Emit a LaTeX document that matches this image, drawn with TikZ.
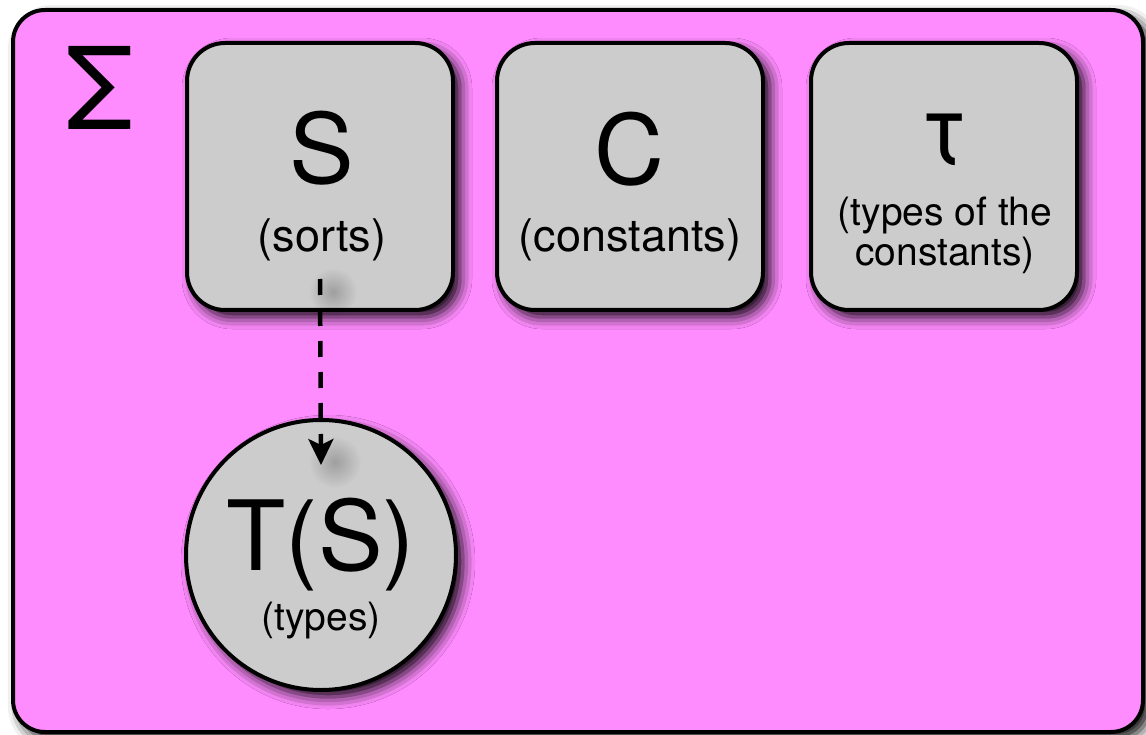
\documentclass[tikz,border=0pt]{standalone}
\usepackage{fontspec}
\setmainfont{TeX Gyre Heros}
\usetikzlibrary{shadows.blur,arrows.meta,fadings}
\definecolor{sigpink}{RGB}{255,140,255}
\definecolor{cardgray}{RGB}{204,204,204}
\newcommand{\bigsym}{\fontsize{97pt}{100pt}\selectfont}
\newcommand{\midlabel}{\fontsize{45pt}{48pt}\selectfont}
\newcommand{\smalllabel}{\fontsize{39pt}{40pt}\selectfont}
\tikzfading[name=softspot, inner color=transparent!0, outer color=transparent!100]
\begin{document}
\begin{tikzpicture}[x=1pt,y=-1pt,
  softshadow/.style={blur shadow={shadow xshift=7pt, shadow yshift=-7pt,
      shadow blur radius=12pt, shadow opacity=95}},
  frame/.style={draw=black, line width=4pt, fill=sigpink, rounded corners=32pt,
      minimum width=1130pt, minimum height=722pt, inner sep=0pt, softshadow},
  card/.style={draw=black, line width=4pt, fill=cardgray, rounded corners=38pt,
      minimum width=266pt, minimum height=267pt, inner sep=0pt, softshadow},
  disc/.style={circle, draw=black, line width=4pt, fill=cardgray,
      minimum size=270pt, inner sep=0pt, softshadow},
  txt/.style={anchor=base, inner sep=0pt, align=center},
  blob/.style={fill=black, opacity=0.22, path fading=softspot, fit fading=true},
  dasharrow/.style={line width=4.5pt, dash pattern=on 16pt off 15pt,
      -{Stealth[length=26pt, width=25pt, inset=6pt]}}]
  \useasboundingbox (0,0) rectangle (1146,735);

  % signature frame
  \node[frame] (sig) at (578,371) {};
  \node[txt, font=\fontsize{114pt}{118pt}\selectfont] (sigma) at (100,130) {Σ};

  % sorts, constants, types of the constants
  \node[card] (S) at (320,176.5) {};
  \node[card] (C) at (630,176.5) {};
  \node[card] (tau) at (944,176.5) {};

  \node[txt, font=\bigsym] (Sname) at (322,184) {S};
  \node[txt, font=\midlabel] (Slab) at (322,252) {(sorts)};
  \node[txt, font=\bigsym] (Cname) at (630,185) {C};
  \node[txt, font=\midlabel] (Clab) at (630,252) {(constants)};
  \node[txt, font=\bigsym] (tauname) at (945,165) {τ};
  \node[txt, font=\smalllabel] (taulab1) at (945,226) {(types of the};
  \node[txt, font=\smalllabel] (taulab2) at (945,266) {constants)};

  % types over the sorts
  \node[disc] (T) at (321,555) {};
  \node[txt, font=\bigsym] (Tname) at (321,570) {T(S)};
  \node[txt, font=\smalllabel] (Tlab) at (321,630) {(types)};

  % soft shadow of the arrow ends
  \fill[blob] (333,292) circle (24);
  \fill[blob] (335,462) circle (26);

  \draw[dasharrow] ([yshift=33pt]S.south) -- ([yshift=-47pt]T.north);
\end{tikzpicture}
\end{document}
